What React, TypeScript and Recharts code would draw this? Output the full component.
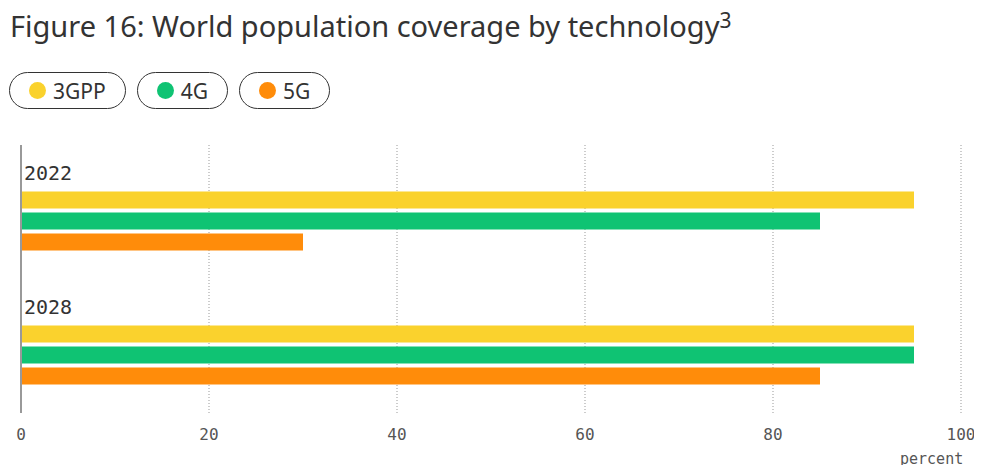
import { BarChart, Bar, XAxis, YAxis, CartesianGrid } from 'recharts';

const years = ['2022', '2028'];
const coverage3gpp = [95, 95];
const coverage4g = [85, 95];
const coverage5g = [30, 85];
const xTicks = [0, 20, 40, 60, 80, 100];

const SERIES = [
  { key: 'gpp', name: '3GPP', color: '#FAD22D' },
  { key: 'g4', name: '4G', color: '#0FC373' },
  { key: 'g5', name: '5G', color: '#FF8C0A' },
];

const data = years.map((year, i) => ({
  year,
  gpp: coverage3gpp[i],
  g4: coverage4g[i],
  g5: coverage5g[i],
}));

const YearTick = (props: any) => {
  const { y, payload } = props;
  return (
    <text x={24} y={y - 41} fill="#333" fontSize={20} fontFamily="DejaVu Sans Mono">
      {payload.value}
    </text>
  );
};

const App = () => {
  return (
    <div style={{ position: 'relative', width: 982, height: 473, margin: -8, background: '#fff', fontFamily: 'Noto Sans' }}>
      <div style={{ position: 'absolute', left: 10, top: 9, fontSize: 29, lineHeight: '34px', color: '#333', whiteSpace: 'nowrap' }}>
        Figure 16: World population coverage by technology
        <sup style={{ fontSize: 21, position: 'relative', top: 2, lineHeight: 0 }}>3</sup>
      </div>
      <div style={{ position: 'absolute', left: 9, top: 72, display: 'flex', gap: 11 }}>
        {SERIES.map((s) => (
          <div
            key={s.key}
            style={{
              display: 'flex',
              alignItems: 'center',
              height: 35,
              padding: '0 19px 0 19px',
              border: '1.5px solid #333',
              borderRadius: 20,
              fontSize: 21,
              color: '#333',
            }}
          >
            <span style={{ width: 17, height: 17, borderRadius: 9, background: s.color, marginRight: 7 }} />
            {s.name}
          </div>
        ))}
      </div>
      <BarChart
        width={982}
        height={473}
        data={data}
        layout="vertical"
        margin={{ top: 145, right: 21, bottom: 30, left: 20 }}
        barSize={17}
        barGap={4}
      >
        <CartesianGrid horizontal={false} stroke="#999" strokeDasharray="1 2" />
        <XAxis
          type="number"
          domain={[0, 100]}
          ticks={xTicks}
          axisLine={false}
          tickLine={false}
          tickMargin={10}
          height={30}
          tick={{ fill: '#555', fontSize: 16, fontFamily: 'DejaVu Sans Mono' }}
        />
        <YAxis
          type="category"
          dataKey="year"
          width={1}
          tickLine={false}
          axisLine={{ stroke: '#999', strokeWidth: 2 }}
          padding={{ top: 8.5, bottom: -8.5 }}
          tick={YearTick}
        />
        {SERIES.map((s) => (
          <Bar key={s.key} dataKey={s.key} name={s.name} fill={s.color} isAnimationActive={false} />
        ))}
      </BarChart>
      <div style={{ position: 'absolute', left: 900, top: 450, fontSize: 15, color: '#555', fontFamily: 'DejaVu Sans Mono' }}>
        percent
      </div>
    </div>
  );
};

export default App;
